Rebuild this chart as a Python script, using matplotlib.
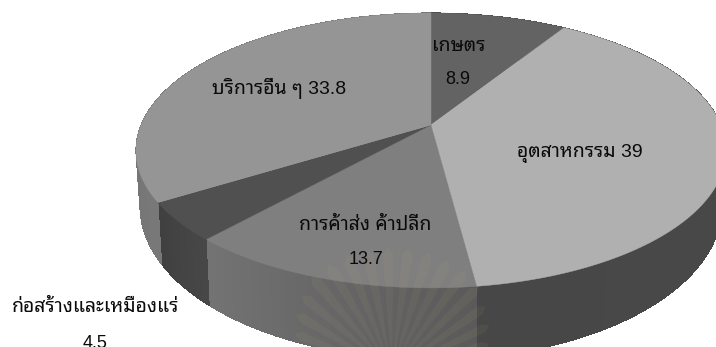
import numpy as np
import matplotlib
matplotlib.use('Agg')
import matplotlib.pyplot as plt
from matplotlib.patches import Polygon, Wedge

# share of each sector, clockwise from 12 o'clock
sectors = ['เกษตร', 'อุตสาหกรรม', 'การค้าส่ง ค้าปลีก', 'ก่อสร้างและเหมืองแร่', 'บริการอื่น ๆ']
values = [8.9, 39, 13.7, 4.5, 33.8]
top_colors = ['#636363', '#b0b0b0', '#7f7f7f', '#505050', '#959595']
# side wall shade at the start and end of each sector
side_colors = [('#484848', '#484848'), ('#4a4a4a', '#474747'), ('#5a5a5a', '#747474'),
               ('#474747', '#3f3f3f'), ('#787878', '#6e6e6e')]

fam = ['Liberation Sans', 'Noto Sans Thai Looped']
plt.rcParams['font.family'] = fam


# flat disc seen in perspective, theta in degrees clockwise from the far edge
def rim(theta, x0, y0, a, b, k=0.185):
    t = np.radians(theta)
    u, v = np.sin(t), np.cos(t)
    w = 1 + k * v
    return x0 + a * u / w, y0 - b * v / w


def top(theta):
    return rim(theta, 431, 125, 290, 132.8)


def bottom(theta):
    return rim(theta, 431, 178, 286, 148)


def mix(c1, c2, f):
    c1 = np.array(matplotlib.colors.to_rgb(c1))
    c2 = np.array(matplotlib.colors.to_rgb(c2))
    return c1 + (c2 - c1) * f


fig = plt.figure(figsize=(7.16, 3.47), dpi=100)
ax = fig.add_axes([0, 0, 1, 1])
ax.set_xlim(0, 716)
ax.set_ylim(347, 0)
ax.axis('off')

edges = np.cumsum([0] + values) / sum(values) * 360

# side wall: smooth outline first, then thin strips so the shade can drift along it
for i in range(len(values)):
    a1, a2 = edges[i], edges[i + 1]
    ang = np.linspace(a1, a2, 120)
    tx, ty = top(ang)
    bx, by = bottom(ang[::-1])
    base = mix(side_colors[i][0], side_colors[i][1], 0.5)
    ax.add_patch(Polygon(np.column_stack([np.r_[tx, bx], np.r_[ty, by]]),
                         fc=base, ec='none', zorder=2))
    n = max(int(a2 - a1), 2)
    steps = np.linspace(a1, a2, n + 1)
    for j in range(n):
        ang = np.linspace(steps[j], steps[j + 1], 3)
        tx, ty = top(ang)
        bx, by = bottom(ang[::-1])
        c = mix(side_colors[i][0], side_colors[i][1], j / n)
        ax.add_patch(Polygon(np.column_stack([np.r_[tx, bx], np.r_[ty, by]]),
                             fc=c, ec='none', antialiased=False, zorder=2))

# top face
for i in range(len(values)):
    ang = np.linspace(edges[i], edges[i + 1], 120)
    tx, ty = top(ang)
    xs = np.r_[431, tx]
    ys = np.r_[125, ty]
    ax.add_patch(Polygon(np.column_stack([xs, ys]), fc=top_colors[i], ec=top_colors[i],
                         lw=0.3, zorder=3))

# faint crest behind the lower edge of the page
cx, cy = 392, 372
for d in np.arange(-78, 79, 9.5):
    long = 118 if abs(d) < 40 else 146 - abs(d) * 0.7
    t = np.radians(d)
    wid = np.radians(2.6)
    px = [cx + 22 * np.sin(t - wid), cx + long * np.sin(t - wid), cx + (long + 7) * np.sin(t),
          cx + long * np.sin(t + wid), cx + 22 * np.sin(t + wid)]
    py = [cy - 22 * np.cos(t - wid), cy - long * np.cos(t - wid), cy - (long + 7) * np.cos(t),
          cy - long * np.cos(t + wid), cy - 22 * np.cos(t + wid)]
    ax.add_patch(Polygon(np.column_stack([px, py]), fc='#c9b878', ec='none', alpha=0.065, zorder=4))
ax.add_patch(Wedge((cx, cy), 150, 12, 168, width=50, fc='#d8cc98', ec='none', alpha=0.04, zorder=4))

# labels
txt = dict(color='#0a0a0a', fontsize=14, ha='center', va='center', zorder=5)
num = dict(txt, fontsize=13)
ax.text(459, 46, sectors[0], **txt)
ax.text(458, 79, str(values[0]), **num)
ax.text(580, 153, f'{sectors[1]} {values[1]}', **txt)
ax.text(365.5, 225, sectors[2], **txt)
ax.text(366, 259, str(values[2]), **num)
ax.text(95.5, 307, sectors[3], **txt)
ax.text(95, 343, str(values[3]), **num)
ax.text(279, 88, f'{sectors[4]} {values[4]}', **txt)

fig.savefig('out.png', dpi=100)
